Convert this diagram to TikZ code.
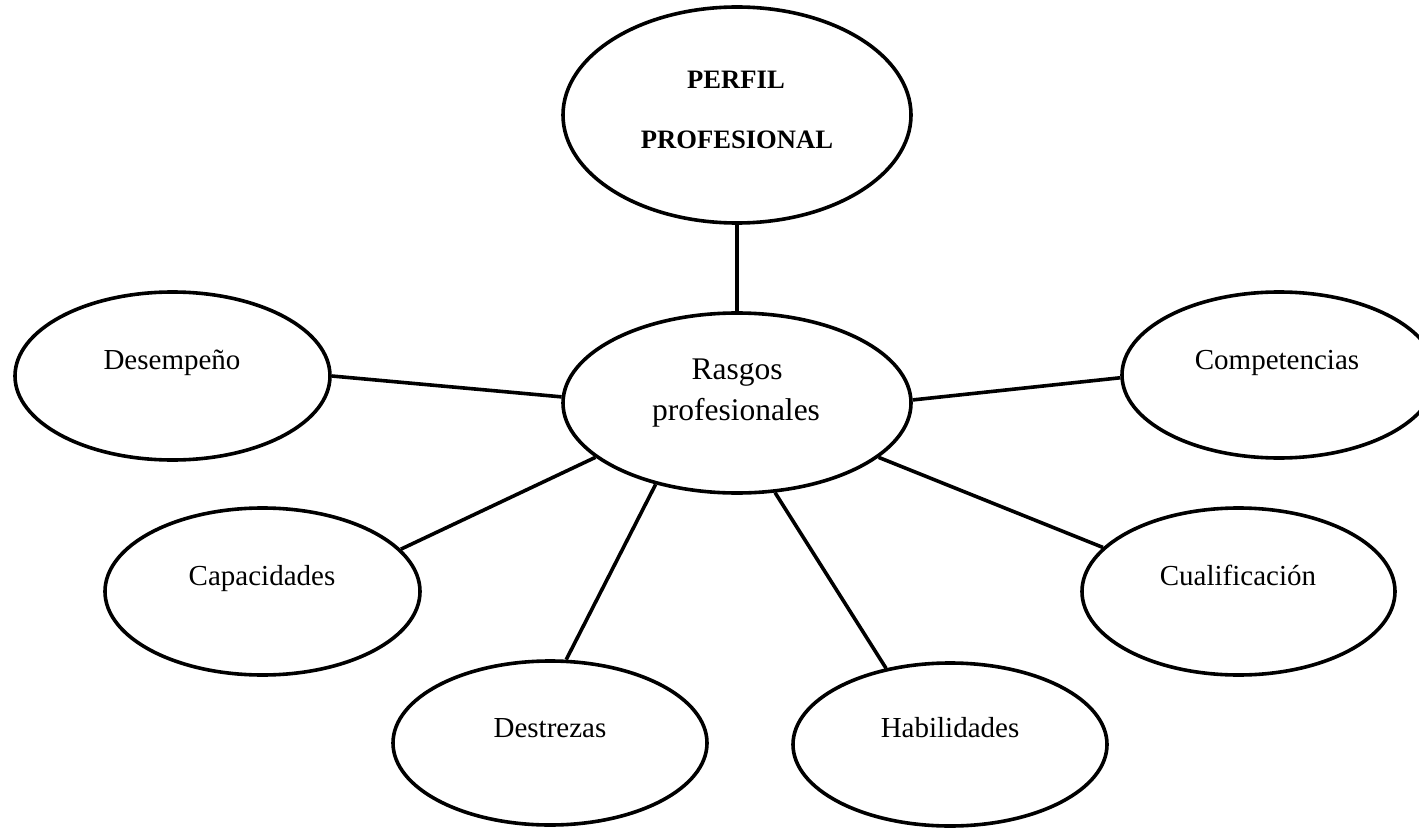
\documentclass[tikz,border=0pt]{standalone}
\usepackage{fontspec}
\setmainfont{Liberation Serif}
\usetikzlibrary{shapes.geometric}
\begin{document}
\begin{tikzpicture}[x=1pt,y=-1pt,
  oval/.style={ellipse,draw=black,line width=3.6pt,inner sep=0pt,fill=white},
  lbl/.style={anchor=base,inner sep=0pt,font=\fontsize{29}{34}\selectfont},
  mid/.style={anchor=base,inner sep=0pt,font=\fontsize{31.5}{38}\selectfont},
  top/.style={anchor=base,inner sep=0pt,font=\fontsize{26.6}{32}\selectfont\bfseries},
  link/.style={draw=black,line width=3.6pt}]
\useasboundingbox (0,0) rectangle (1419,829);
\clip (0,0) rectangle (1419,829);
% ellipses
\node[oval,minimum width=348pt,minimum height=216pt] (perfil) at (737,115) {};
\node[oval,minimum width=348pt,minimum height=180pt] (rasgos) at (737,403) {};
\node[oval,minimum width=315pt,minimum height=168pt] (des) at (172.5,376) {};
\node[oval,minimum width=314pt,minimum height=166pt] (comp) at (1279,375) {};
\node[oval,minimum width=315pt,minimum height=167pt] (cap) at (262.5,591.5) {};
\node[oval,minimum width=313pt,minimum height=167pt] (cual) at (1238.5,591.5) {};
\node[oval,minimum width=314pt,minimum height=164pt] (destr) at (550,743) {};
\node[oval,minimum width=314pt,minimum height=163pt] (hab) at (950,744.5) {};
% connectors
\draw[link] (perfil.south) -- (rasgos.north);
\draw[link] (des.0) -- (rasgos.178.4);
\draw[link] (comp.181) -- (rasgos.1);
\draw[link] (cap.17.5) -- (rasgos.-159.1);
\draw[link] (cual.162.7) -- (rasgos.-21.3);
\draw[link] (destr.79.6) -- (rasgos.225);
\draw[link] (hab.130.2) -- (rasgos.-67);
% texts
\node[top] (perfilA) at (736,89) {PERFIL};
\node[top] (perfilB) at (737,149) {PROFESIONAL};
\node[mid] (rasgosA) at (737,379) {Rasgos};
\node[mid] (rasgosB) at (736,420) {profesionales};
\node[lbl] (desT) at (172,369) {Desempeño};
\node[lbl] (compT) at (1277,369) {Competencias};
\node[lbl] (capT) at (262,585) {Capacidades};
\node[lbl] (cualT) at (1238,585) {Cualificación};
\node[lbl] (destrT) at (550,737) {Destrezas};
\node[lbl] (habT) at (950,737) {Habilidades};
\end{tikzpicture}
\end{document}
